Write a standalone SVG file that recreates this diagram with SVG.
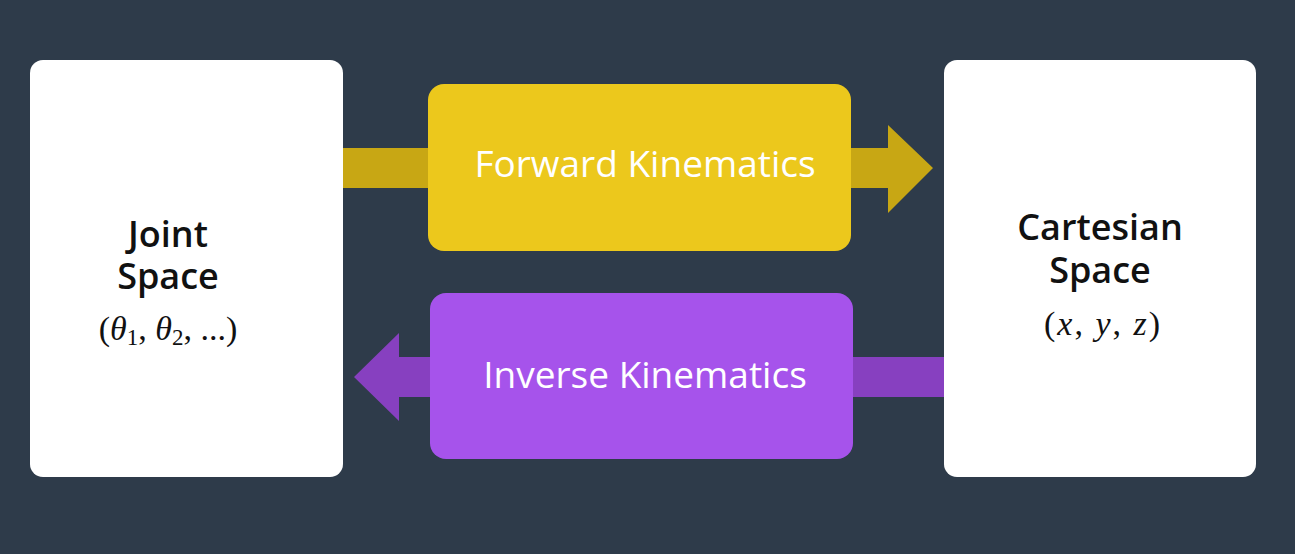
<svg xmlns="http://www.w3.org/2000/svg" width="1295" height="554" viewBox="0 0 1295 554">
  <style>
    .space { fill: #ffffff; }
    .title { font-family: "Open Sans", "Liberation Sans", sans-serif; font-weight: 600; font-size: 36px; fill: #111111; text-anchor: middle; }
    .math { font-family: "Liberation Serif", "DejaVu Serif", serif; font-size: 34px; fill: #111111; text-anchor: middle; }
    .math tspan.v { font-style: italic; }
    .label { font-family: "Open Sans", "Liberation Sans", sans-serif; font-weight: 400; font-size: 37px; fill: #ffffff; text-anchor: middle; }
  </style>
  <rect width="1295" height="554" fill="#2e3b4a"/>

  <!-- arrows behind the process boxes -->
  <g id="connectors">
    <polygon fill="#c8a714" points="343,148 888,148 888,125 933,168 888,213 888,188 343,188"/>
    <polygon fill="#8740c0" points="944,357 399,357 399,333 354,377 399,421 399,397 944,397"/>
  </g>

  <g id="joint-space">
    <rect class="space" x="30" y="60" width="313" height="417" rx="13"/>
    <text class="title" x="168" y="247">Joint</text>
    <text class="title" x="168" y="289">Space</text>
    <text class="math" x="168" y="340">(<tspan class="v">θ</tspan><tspan font-size="23" dy="5">1</tspan><tspan dy="-5">,  </tspan><tspan class="v">θ</tspan><tspan font-size="23" dy="5">2</tspan><tspan dy="-5">,  ...)</tspan></text>
  </g>

  <g id="cartesian-space">
    <rect class="space" x="944" y="60" width="312" height="417" rx="13"/>
    <text class="title" x="1100" y="240">Cartesian</text>
    <text class="title" x="1100" y="283">Space</text>
    <text class="math" x="1103" y="335" letter-spacing="2">(<tspan class="v">x</tspan>,  <tspan class="v">y</tspan>,  <tspan class="v">z</tspan>)</text>
  </g>

  <g id="forward-kinematics">
    <rect x="428" y="84" width="423" height="167" rx="16" fill="#ecc81c"/>
    <text class="label" x="645" y="177">Forward Kinematics</text>
  </g>

  <g id="inverse-kinematics">
    <rect x="430" y="293" width="423" height="166" rx="16" fill="#a653eb"/>
    <text class="label" x="645" y="388">Inverse Kinematics</text>
  </g>
</svg>
